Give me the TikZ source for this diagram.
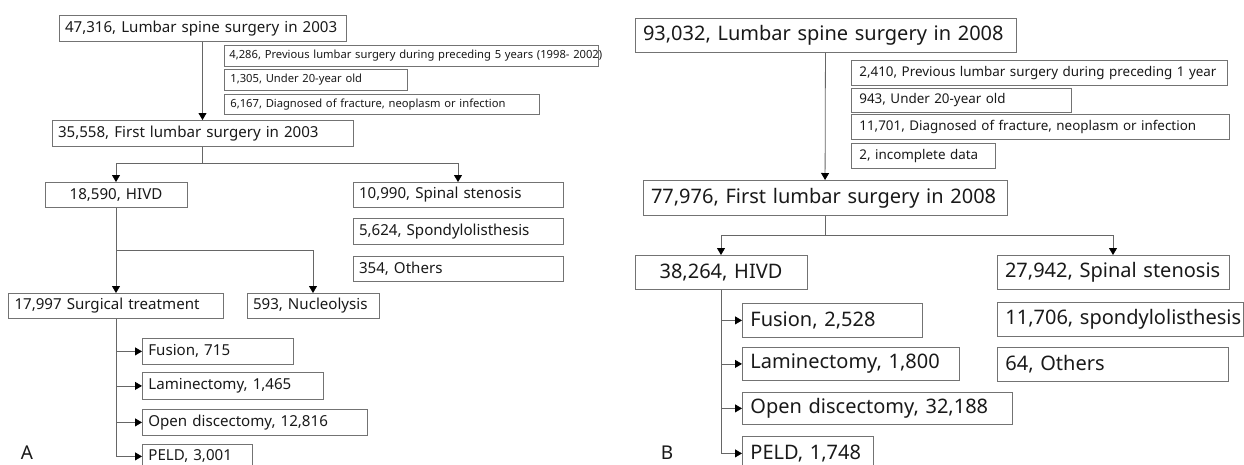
\documentclass[tikz,border=0pt]{standalone}
\usepackage{fontspec}
\setmainfont{Noto Sans}
\usetikzlibrary{arrows.meta}
\tikzset{
  box/.style={draw=black!55, line width=0.8pt, anchor=north, align=left, inner ysep=0pt, text=black!90,
    execute at begin node={\hbox\bgroup}, execute at end node={\egroup}},
  w/.style={text width={#1-2*\pgfkeysvalueof{/pgf/inner xsep}}},
  nw/.style={anchor=north west},
  smallA/.style={box, font=\fontsize{11.2}{13}\selectfont, inner xsep=6pt, minimum height=21pt},
  bigA/.style={box, font=\fontsize{15.1}{18}\selectfont, inner xsep=6pt, minimum height=26pt},
  smallB/.style={box, font=\fontsize{13.4}{15}\selectfont, inner xsep=8pt, minimum height=25pt},
  bigB/.style={box, font=\fontsize{20}{23}\selectfont, inner xsep=8pt, minimum height=34pt},
  panel/.style={font=\fontsize{19}{22}\selectfont, text=black!90},
  arr/.style={draw=black!60, line width=0.8pt, -{Triangle[width=8pt,length=7pt,black]}}
}
\begin{document}
\begin{tikzpicture}[x=1pt,y=-1pt]
      \useasboundingbox (0,0) rectangle (1244,464);
      \draw
        (202.5,15) node[bigA, w=287pt] (topA){47,316, Lumbar spine surgery in 2003}
        (224,45) node[smallA, nw, inner xsep=5pt, w=374pt] (exA1){4,286, Previous lumbar surgery during preceding 5 years (1998- 2002)}
        (224,69) node[smallA, nw, w=183pt] (exA2){1,305, Under 20-year old}
        (224,94) node[smallA, nw, w=315pt, minimum height=20pt] (exA3){6,167, Diagnosed of fracture, neoplasm or infection}
        (202.5,120) node[bigA, w=301pt] (firstA){35,558, First lumbar surgery in 2003}
        (116,182) node[bigA, align=center, w=142pt, minimum height=25pt] (hivdA){18,590, HIVD}
        (458,182) node[bigA, w=210pt, minimum height=25pt] (stenA){10,990, Spinal stenosis}
        (458,218) node[bigA, w=210pt] (spondA){5,624, Spondylolisthesis}
        (458,256) node[bigA, w=210pt, minimum height=25pt] (othA){354, Others}
        (116,293) node[bigA, w=215pt, minimum height=25pt] (surgA){17,997 Surgical treatment}
        (313,293) node[bigA, w=132pt, minimum height=25pt] (nucA){593, Nucleolysis}
        (142,338) node[bigA, nw, w=151pt] (fusA){Fusion, 715}
        (142,372) node[bigA, nw, w=181pt, minimum height=27pt] (lamA){Laminectomy, 1,465}
        (142,409) node[bigA, nw, w=225pt] (opnA){Open discectomy, 12,816}
        (142,444) node[bigA, nw, w=110pt, minimum height=24pt] (peldA){PELD, 3,001}
        (27,453) node[panel] (labA){A};
      \draw
        (825.5,18) node[bigB, w=381pt] (topB){93,032, Lumbar spine surgery in 2008}
        (851,60) node[smallB, nw, w=376pt] (exB1){2,410, Previous lumbar surgery during preceding 1 year}
        (851,88) node[smallB, nw, w=220pt, minimum height=24pt] (exB2){943, Under 20-year old}
        (851,114) node[smallB, nw, w=378pt] (exB3){11,701, Diagnosed of fracture, neoplasm or infection}
        (851,143) node[smallB, nw, w=144pt] (exB4){2, incomplete data}
        (825,180) node[bigB, w=364pt, minimum height=35pt] (firstB){77,976, First lumbar surgery in 2008}
        (721,255) node[bigB, align=center, w=172pt] (hivdB){38,264, HIVD}
        (1113,255) node[bigB, w=232pt] (stenB){27,942, Spinal stenosis}
        (997,302) node[bigB, nw, w=246pt] (spondB){11,706, spondylolisthesis}
        (997,347) node[bigB, nw, w=231pt] (othB){64, Others}
        (742,303) node[bigB, nw, w=180pt] (fusB){Fusion, 2,528}
        (742,347) node[bigB, nw, w=217pt, minimum height=33pt] (lamB){Laminectomy, 1,800}
        (742,392) node[bigB, nw, w=270pt, minimum height=32pt] (opnB){Open discectomy, 32,188}
        (742,436) node[bigB, nw, w=131pt] (peldB){PELD, 1,748}
        (667,453) node[panel] (labB){B};
      \coordinate (sA) at (202.5,163);
      \coordinate (hA) at (116,250);
      \coordinate (sB) at (825,235);
      \begin{scope}[arr]
        \draw (topA) -- (firstA);
        \draw[-] (firstA) -- (sA);
        \draw (sA) -| (hivdA);
        \draw (sA) -| (stenA);
        \draw[-] (hivdA) -- (hA);
        \draw (hA) -| (surgA);
        \draw (hA) -| (nucA);
        \draw (surgA |- fusA) -- (fusA);
        \draw (surgA |- lamA) -- (lamA);
        \draw (surgA |- opnA) -- (opnA);
        \draw (surgA) |- (peldA);
        \draw (topB) -- (firstB);
        \draw[-] (firstB) -- (sB);
        \draw (sB) -| (hivdB);
        \draw (sB) -| (stenB);
        \draw (hivdB |- fusB) -- (fusB);
        \draw (hivdB |- lamB) -- (lamB);
        \draw (hivdB |- opnB) -- (opnB);
        \draw (hivdB) |- (peldB);
      \end{scope}
    \end{tikzpicture}
\end{document}
